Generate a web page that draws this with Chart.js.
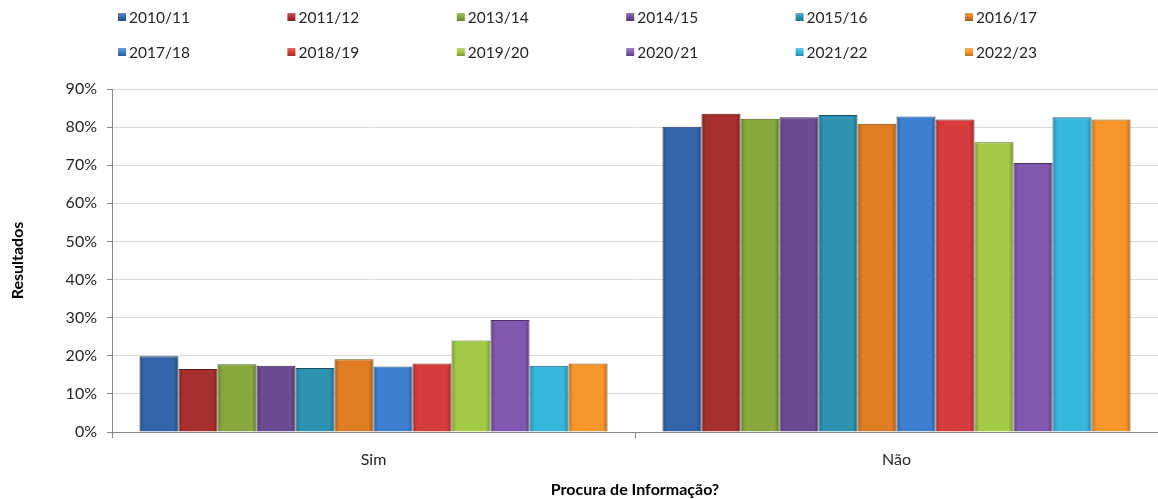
<!DOCTYPE html>
<html lang="pt">
<head>
    <meta charset="UTF-8">
    <title>Procura de Informação?</title>
    <script src="https://cdn.jsdelivr.net/npm/chart.js"></script>
    <style>
        html, body { margin: 0; padding: 0; background: #fff; }
        #wrap { width: 1158px; height: 499px; }
    </style>
</head>
<body>
    <div id="wrap"><canvas id="infoChart" width="1158" height="499"></canvas></div>

    <script>
        // Data (percent)
        const categories = ['Sim', 'Não'];
        const years = ['2010/11', '2011/12', '2013/14', '2014/15', '2015/16', '2016/17',
                       '2017/18', '2018/19', '2019/20', '2020/21', '2021/22', '2022/23'];
        const simValues = [19.9, 16.5, 17.8, 17.4, 16.8, 19.1, 17.2, 18.0, 24.0, 29.4, 17.4, 18.0];
        const naoValues = [80.1, 83.5, 82.2, 82.6, 83.2, 80.9, 82.8, 82.0, 76.0, 70.6, 82.6, 82.0];
        const yTicks = [0, 10, 20, 30, 40, 50, 60, 70, 80, 90];

        const colors = ['#3465a8', '#a8302f', '#86a83c', '#6b4c93', '#2e93b0', '#e07d22',
                        '#3d80d1', '#d63c3c', '#a3cb45', '#8158af', '#36b6dc', '#f8962a'];

        const FONT = 'Lato, "Open Sans", sans-serif';

        function shade(hex, f) {
            const n = parseInt(hex.slice(1), 16);
            let r = n >> 16, g = (n >> 8) & 255, b = n & 255;
            const m = c => Math.round(f < 0 ? c * (1 + f) : c + (255 - c) * f);
            return 'rgb(' + m(r) + ',' + m(g) + ',' + m(b) + ')';
        }

        // horizontal gradient per bar for the bevelled look
        function barFill(ctx) {
            const base = colors[ctx.datasetIndex];
            const el = ctx.element;
            if (!el || el.x === undefined || isNaN(el.x) || !el.width) return base;
            const g = ctx.chart.ctx.createLinearGradient(el.x - el.width / 2, 0, el.x + el.width / 2, 0);
            g.addColorStop(0, shade(base, -0.25));
            g.addColorStop(0.12, base);
            g.addColorStop(0.88, base);
            g.addColorStop(1, shade(base, -0.3));
            return g;
        }

        // legend laid out as a 2 x 6 grid
        const gridLegend = {
            id: 'gridLegend',
            afterDraw(chart) {
                const c = chart.ctx;
                const colW = 169.4, cols = 6, startX = 118;
                c.save();
                c.font = '15.5px ' + FONT;
                c.textBaseline = 'middle';
                chart.data.datasets.forEach((ds, i) => {
                    const x = startX + (i % cols) * colW;
                    const y = 17 + Math.floor(i / cols) * 35;
                    const g = c.createLinearGradient(0, y - 4, 0, y + 4);
                    g.addColorStop(0, shade(colors[i], 0.25));
                    g.addColorStop(0.5, colors[i]);
                    g.addColorStop(1, shade(colors[i], -0.25));
                    c.fillStyle = g;
                    c.fillRect(x, y - 4, 8, 8);
                    c.fillStyle = '#262626';
                    c.fillText(ds.label, x + 11, y + 1);
                });
                c.restore();
            }
        };

        const datasets = years.map((y, i) => ({
            label: y,
            data: [simValues[i], naoValues[i]],
            backgroundColor: barFill,
            borderColor: shade(colors[i], -0.45),
            borderWidth: 1
        }));

        const ctx = document.getElementById('infoChart').getContext('2d');
        const chart = new Chart(ctx, {
            type: 'bar',
            data: { labels: categories, datasets: datasets },
            options: {
                responsive: false,
                animation: false,
                layout: { padding: { top: 89, left: 8, right: -4, bottom: 0 } },
                plugins: {
                    legend: { display: false },
                    tooltip: { enabled: false }
                },
                datasets: { bar: { categoryPercentage: 0.895, barPercentage: 1 } },
                scales: {
                    x: {
                        grid: {
                            offset: true,
                            drawOnChartArea: false,
                            drawTicks: true,
                            tickLength: 6,
                            color: '#868686'
                        },
                        border: { color: '#868686', width: 1 },
                        ticks: { color: '#262626', font: { family: FONT, size: 16 }, padding: 12 },
                        title: {
                            display: true,
                            text: 'Procura de Informação?',
                            color: '#000',
                            font: { family: FONT, size: 16, weight: 'bold' },
                            padding: { top: 10, bottom: 0 }
                        },
                        afterFit: s => { s.height = 67; }
                    },
                    y: {
                        min: 0,
                        max: 90,
                        afterBuildTicks: s => { s.ticks = yTicks.map(v => ({ value: v })); },
                        grid: { color: '#d9d9d9', tickColor: '#868686', tickLength: 5 },
                        border: { color: '#868686', width: 1 },
                        ticks: {
                            color: '#262626',
                            font: { family: FONT, size: 16 },
                            padding: 10,
                            callback: v => v + '%'
                        },
                        title: {
                            display: true,
                            text: 'Resultados',
                            color: '#000',
                            font: { family: FONT, size: 16, weight: 'bold' },
                            padding: { top: 0, bottom: 14 }
                        },
                        afterFit: s => { s.width = 104; }
                    }
                }
            },
            plugins: [gridLegend]
        });
        // second pass so the bar gradients can use the laid-out bar positions
        chart.update();
    </script>
</body>
</html>
